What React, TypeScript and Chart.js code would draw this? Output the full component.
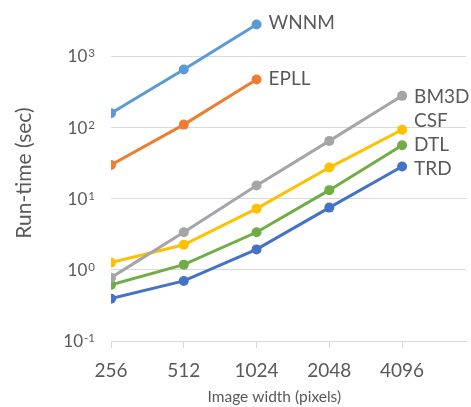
import { useEffect, useRef } from 'react';
import { Chart, registerables } from 'chart.js';

Chart.register(...registerables);

const categories = ['256', '512', '1024', '2048', '4096'];
const seriesNames = ['WNNM', 'EPLL', 'BM3D', 'CSF', 'DTL', 'TRD'];
const wnnm = [157, 645, 2770];
const epll = [29.6, 109, 469];
const bm3d = [0.775, 3.36, 15.2, 64.4, 276];
const csf = [1.26, 2.24, 7.21, 27.2, 92.3];
const dtl = [0.614, 1.18, 3.36, 13.1, 56];
const trd = [0.393, 0.697, 1.93, 7.45, 28.1];
const yTicks = [0.1, 1, 10, 100, 1000];
const yTickBase = '10';
const yTickExps = ['-1', '0', '1', '2', '3'];
const xTitle = 'Image width (pixels)';
const yTitle = 'Run-time (sec)';

const seriesValues = [wnnm, epll, bm3d, csf, dtl, trd];
const colors = ['#5B9BD5', '#ED7D31', '#A5A5A5', '#FFC000', '#70AD47', '#4472C4'];
const labelShift = [-2, -1, 1, -9, 0, 2];
const FONT = 'Lato, "Open Sans", sans-serif';
const TEXT = '#595959';
const GRID = '#D9D9D9';

const textPlugin = {
  id: 'textPlugin',
  afterDatasetsDraw(chart: any) {
    const ctx = chart.ctx;
    ctx.save();
    ctx.fillStyle = TEXT;
    // end-of-line series labels
    ctx.font = `19px ${FONT}`;
    ctx.textBaseline = 'middle';
    ctx.textAlign = 'left';
    chart.data.datasets.forEach((ds: any, i: number) => {
      const meta = chart.getDatasetMeta(i);
      const pt = meta.data[meta.data.length - 1];
      if (pt) ctx.fillText(ds.label, pt.x + 12, pt.y + labelShift[i]);
    });
    // x axis title
    const area = chart.chartArea;
    ctx.font = `15.5px ${FONT}`;
    ctx.textAlign = 'center';
    ctx.fillText(xTitle, area.left + (area.right - area.left) * 0.46, chart.scales.x.bottom - 10);
    // y tick labels with superscript exponents
    const ys = chart.scales.y;
    const rightEdge = area.left - 16;
    yTicks.forEach((v, k) => {
      const py = ys.getPixelForValue(v);
      ctx.font = `11.5px ${FONT}`;
      ctx.textAlign = 'right';
      ctx.textBaseline = 'top';
      const expW = ctx.measureText(yTickExps[k]).width;
      ctx.fillText(yTickExps[k], rightEdge, py - 8);
      ctx.font = `17px ${FONT}`;
      ctx.textBaseline = 'middle';
      ctx.fillText(yTickBase, rightEdge - expW - 1, py + 1);
    });
    ctx.restore();
  },
};

export default function App() {
  const ref = useRef<HTMLCanvasElement>(null);
  useEffect(() => {
    if (!ref.current) return;
    const chart = new Chart(ref.current, {
      type: 'line',
      data: {
        datasets: seriesNames.map((name, i) => ({
          label: name,
          data: seriesValues[i].map((v, j) => ({ x: j, y: v })),
          borderColor: colors[i],
          backgroundColor: colors[i],
          borderWidth: 3,
          pointRadius: 5,
          pointHoverRadius: 5,
          pointBorderWidth: 0,
          tension: 0,
        })),
      },
      plugins: [textPlugin],
      options: {
        animation: false,
        responsive: true,
        maintainAspectRatio: false,
        layout: { padding: 0 },
        plugins: { legend: { display: false }, tooltip: { enabled: false } },
        scales: {
          x: {
            type: 'linear',
            min: 0,
            max: 4.878,
            afterBuildTicks: (axis: any) => {
              axis.ticks = categories.map((_, j) => ({ value: j }));
            },
            afterFit: (scale: any) => {
              scale.height = 66;
              scale.paddingLeft = 0;
              scale.paddingRight = 0;
            },
            grid: { drawOnChartArea: false, drawTicks: true, tickLength: 7, color: GRID },
            border: { display: true, color: GRID, width: 1 },
            ticks: {
              padding: 11,
              color: TEXT,
              font: { family: FONT, size: 19 },
              callback: (v: any) => categories[v] ?? '',
            },
          },
          y: {
            type: 'logarithmic',
            min: 0.1,
            max: 5200,
            afterBuildTicks: (axis: any) => {
              axis.ticks = yTicks.map((v) => ({ value: v }));
            },
            afterFit: (scale: any) => {
              scale.width = 111;
              scale.paddingTop = 0;
              scale.paddingBottom = 0;
            },
            grid: { color: GRID, drawTicks: false, lineWidth: 1 },
            border: { display: false },
            ticks: {
              padding: 14,
              color: TEXT,
              font: { family: FONT, size: 17 },
              callback: () => '',
            },
            title: {
              display: true,
              text: yTitle,
              color: TEXT,
              font: { family: FONT, size: 21 },
              padding: { top: 12, bottom: 0 },
            },
          },
        },
      },
    } as any);
    return () => chart.destroy();
  }, []);
  return (
    <div style={{ position: 'fixed', left: 0, top: 0, width: 471, height: 407 }}>
      <canvas ref={ref} />
    </div>
  );
}
